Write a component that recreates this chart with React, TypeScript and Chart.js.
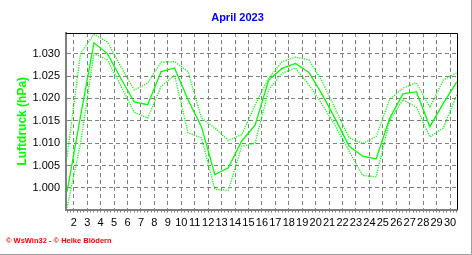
import { useEffect, useRef } from 'react';
import { Chart, registerables } from 'chart.js';

Chart.register(...registerables);

// ---- data ----
const days = [1.5, 2.5, 3.5, 4.5, 5.5, 6.5, 7.5, 8.5, 9.5, 10.5, 11.5, 12.5, 13.5, 14.5, 15.5, 16.5, 17.5, 18.5, 19.5, 20.5, 21.5, 22.5, 23.5, 24.5, 25.5, 26.5, 27.5, 28.5, 29.5, 30.5];
const meanPressure = [0.9992, 1.0160, 1.0324, 1.0300, 1.0245, 1.0192, 1.0186, 1.0260, 1.0268, 1.0197, 1.0137, 1.0030, 1.0045, 1.0105, 1.0141, 1.0241, 1.0267, 1.0278, 1.0258, 1.0208, 1.0152, 1.0093, 1.0071, 1.0065, 1.0155, 1.0210, 1.0215, 1.0137, 1.0189, 1.0237];
const maxPressure = [1.0070, 1.0300, 1.0343, 1.0326, 1.0271, 1.0219, 1.0234, 1.0281, 1.0282, 1.0260, 1.0156, 1.0134, 1.0106, 1.0119, 1.0186, 1.0245, 1.0282, 1.0292, 1.0286, 1.0237, 1.0174, 1.0112, 1.0099, 1.0115, 1.0197, 1.0223, 1.0235, 1.0180, 1.0241, 1.0257];
const minPressure = [0.9956, 1.0100, 1.0300, 1.0286, 1.0228, 1.0169, 1.0156, 1.0227, 1.0252, 1.0123, 1.0112, 0.9997, 0.9995, 1.0093, 1.0100, 1.0219, 1.0256, 1.0268, 1.0230, 1.0186, 1.0137, 1.0082, 1.0028, 1.0025, 1.0150, 1.0197, 1.0180, 1.0114, 1.0134, 1.0208];
const xTickDays = [2, 3, 4, 5, 6, 7, 8, 9, 10, 11, 12, 13, 14, 15, 16, 17, 18, 19, 20, 21, 22, 23, 24, 25, 26, 27, 28, 29, 30];
const yTickValues = [1.000, 1.005, 1.010, 1.015, 1.020, 1.025, 1.030];
const titleText = 'April 2023';
const yAxisLabel = 'Luftdruck (hPa)';
const footerText = '© WsWin32 - © Heike Blödern';

// ---- style ----
const FONT = '"Liberation Sans", Arial, sans-serif';
const GREEN = '#00FF00';
const GRID = '#808080';
const X_MIN = 1.42;
const X_MAX = 30.52;
const Y_MIN = 0.9952;
const Y_MAX = 1.0346;
const MINOR_PER_DAY = 4;

const framePlugin = {
  id: 'frame',
  afterDraw(chart: any) {
    const { ctx, chartArea, width, height } = chart;
    const { left, top, right, bottom } = chartArea;
    ctx.save();
    ctx.lineWidth = 1;
    ctx.strokeStyle = '#000000';
    ctx.beginPath();
    ctx.moveTo(left, Math.round(top) + 0.5);
    ctx.lineTo(Math.round(right) + 0.5, Math.round(top) + 0.5);
    ctx.lineTo(Math.round(right) + 0.5, bottom);
    ctx.stroke();
    ctx.strokeStyle = '#a0a0a0';
    ctx.beginPath();
    ctx.moveTo(width - 0.5, 0);
    ctx.lineTo(width - 0.5, height - 0.5);
    ctx.lineTo(0, height - 0.5);
    ctx.stroke();
    ctx.restore();
  },
};

function lineDataset(label: string, values: number[], dashed: boolean) {
  return {
    label,
    data: days.map((d, i) => ({ x: d, y: values[i] })),
    borderColor: GREEN,
    backgroundColor: GREEN,
    borderWidth: dashed ? 1.3 : 1.3,
    borderDash: dashed ? [1.2, 1.2] : [],
    pointRadius: 0,
    tension: 0,
    fill: false,
  };
}

export default function App() {
  const canvasRef = useRef<HTMLCanvasElement | null>(null);

  useEffect(() => {
    if (!canvasRef.current) return;
    Chart.defaults.font.family = FONT;
    const chart = new Chart(canvasRef.current, {
      type: 'line',
      data: {
        datasets: [
          lineDataset('Max', maxPressure, true),
          lineDataset('Min', minPressure, true),
          lineDataset('Mittel', meanPressure, false),
        ],
      },
      options: {
        responsive: false,
        animation: false,
        devicePixelRatio: 1,
        layout: { padding: { left: 6, right: 3, top: 0, bottom: 0 } },
        plugins: {
          legend: { display: false },
          tooltip: { enabled: false },
          title: {
            display: true,
            text: titleText,
            color: '#0000FF',
            font: { family: FONT, size: 11, weight: 'bold' },
            padding: { top: 11.3, bottom: 8.5 },
          },
          subtitle: {
            display: true,
            text: footerText,
            position: 'bottom',
            align: 'start',
            color: '#FF0000',
            font: { family: FONT, size: 7.5, weight: 'bold' },
            padding: { top: 0, bottom: 10 },
          },
        },
        scales: {
          x: {
            type: 'linear',
            min: X_MIN,
            max: X_MAX,
            afterBuildTicks: (scale: any) => {
              const ticks: { value: number }[] = [];
              for (let d = Math.floor(X_MIN); d <= Math.ceil(X_MAX); d++) {
                for (let k = 0; k < MINOR_PER_DAY; k++) {
                  const v = d + k / MINOR_PER_DAY;
                  if (v >= X_MIN && v <= X_MAX) ticks.push({ value: v });
                }
              }
              scale.ticks = ticks;
            },
            afterFit: (scale: any) => {
              scale.height = 26.5;
            },
            ticks: {
              autoSkip: false,
              maxRotation: 0,
              minRotation: 0,
              padding: 4,
              color: '#000000',
              font: { family: FONT, size: 11 },
              callback: (value: any) => (xTickDays.includes(Number(value)) ? String(value) : ''),
            },
            grid: {
              color: (c: any) => (c.tick && xTickDays.includes(c.tick.value) ? GRID : 'rgba(0,0,0,0)'),
              tickColor: GRID,
              tickLength: 3,
              tickWidth: 1,
              lineWidth: 1,
              drawTicks: true,
            },
            border: { display: true, color: GRID, width: 2, dash: [4, 3] },
          },
          y: {
            type: 'linear',
            position: 'left',
            min: Y_MIN,
            max: Y_MAX,
            afterBuildTicks: (scale: any) => {
              scale.ticks = yTickValues.map((v) => ({ value: v }));
            },
            afterFit: (scale: any) => {
              scale.width = 60;
            },
            ticks: {
              padding: 6,
              color: '#000000',
              font: { family: FONT, size: 11 },
              callback: (value: any) => Number(value).toFixed(3),
            },
            grid: { color: GRID, lineWidth: 1, drawTicks: false },
            border: { display: true, color: GRID, width: 2, dash: [4, 3] },
            title: {
              display: true,
              text: yAxisLabel,
              color: GREEN,
              font: { family: FONT, size: 12, weight: 'bold' },
              padding: { top: 9.3, bottom: 0 },
            },
          },
          spacer: {
            type: 'linear',
            position: 'right',
            display: true,
            afterFit: (scale: any) => {
              scale.width = 12;
            },
            ticks: { display: false },
            grid: { display: false },
            border: { display: false },
          },
        },
      } as any,
      plugins: [framePlugin],
    });
    return () => chart.destroy();
  }, []);

  return (
    <div style={{ position: 'absolute', left: 0, top: 0, width: 472, height: 255, background: '#ffffff' }}>
      <canvas ref={canvasRef} width={472} height={255} style={{ display: 'block' }} />
    </div>
  );
}
